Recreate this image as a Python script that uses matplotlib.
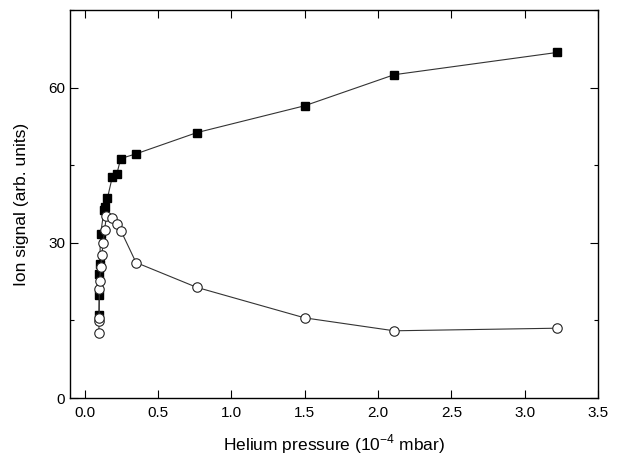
import matplotlib.pyplot as plt
from matplotlib.ticker import MultipleLocator

plt.rcParams['font.family'] = ['Liberation Sans', 'DejaVu Sans']

# filled squares
sq_p = [0.097, 0.099, 0.101, 0.102, 0.109, 0.132, 0.136, 0.155, 0.189, 0.22, 0.246, 0.35, 0.764, 1.50, 2.11, 3.22]
sq_s = [16.1, 19.9, 24.0, 25.9, 31.7, 36.4, 36.9, 38.6, 42.8, 43.4, 46.3, 47.2, 51.3, 56.5, 62.5, 66.8]

# open circles
ci_p = [0.097, 0.098, 0.099, 0.100, 0.102, 0.109, 0.118, 0.125, 0.136, 0.148, 0.189, 0.22, 0.248, 0.35, 0.764, 1.50, 2.11, 3.22]
ci_s = [12.6, 14.8, 15.4, 21.1, 22.7, 25.3, 27.7, 29.9, 32.5, 35.1, 34.8, 33.6, 32.3, 26.2, 21.4, 15.5, 13.0, 13.5]

fig = plt.figure(figsize=(6.21, 4.57), dpi=100)
ax = fig.add_axes([0.1127, 0.129, 0.8503, 0.849])

ax.plot(sq_p, sq_s, '-', color='#333333', lw=0.8, marker='s', ms=6,
        mfc='black', mec='black', zorder=3)
ax.plot(ci_p, ci_s, '-', color='#333333', lw=0.8, marker='o', ms=6.8,
        mfc='white', mec='#222222', mew=0.8, zorder=3)

ax.set_xlim(-0.1, 3.5)
ax.set_ylim(0, 75)
ax.xaxis.set_major_locator(MultipleLocator(0.5))
ax.yaxis.set_major_locator(MultipleLocator(30))
ax.yaxis.set_minor_locator(MultipleLocator(15))
ax.tick_params(which='both', direction='in', top=True, right=True, labelsize=11)
ax.tick_params(which='major', length=6, width=0.8)
ax.tick_params(which='minor', length=3, width=0.8)
ax.tick_params(axis='x', which='minor', bottom=False, top=False)
ax.tick_params(axis='x', pad=6)
for s in ax.spines.values():
    s.set_linewidth(1.0)

ax.set_xlabel('Helium pressure (10$^{\\mathregular{-4}}$ mbar)', fontsize=12.5, labelpad=9)
ax.set_ylabel('Ion signal (arb. units)', fontsize=12.5, labelpad=14)

fig.savefig('out.png', dpi=100)
